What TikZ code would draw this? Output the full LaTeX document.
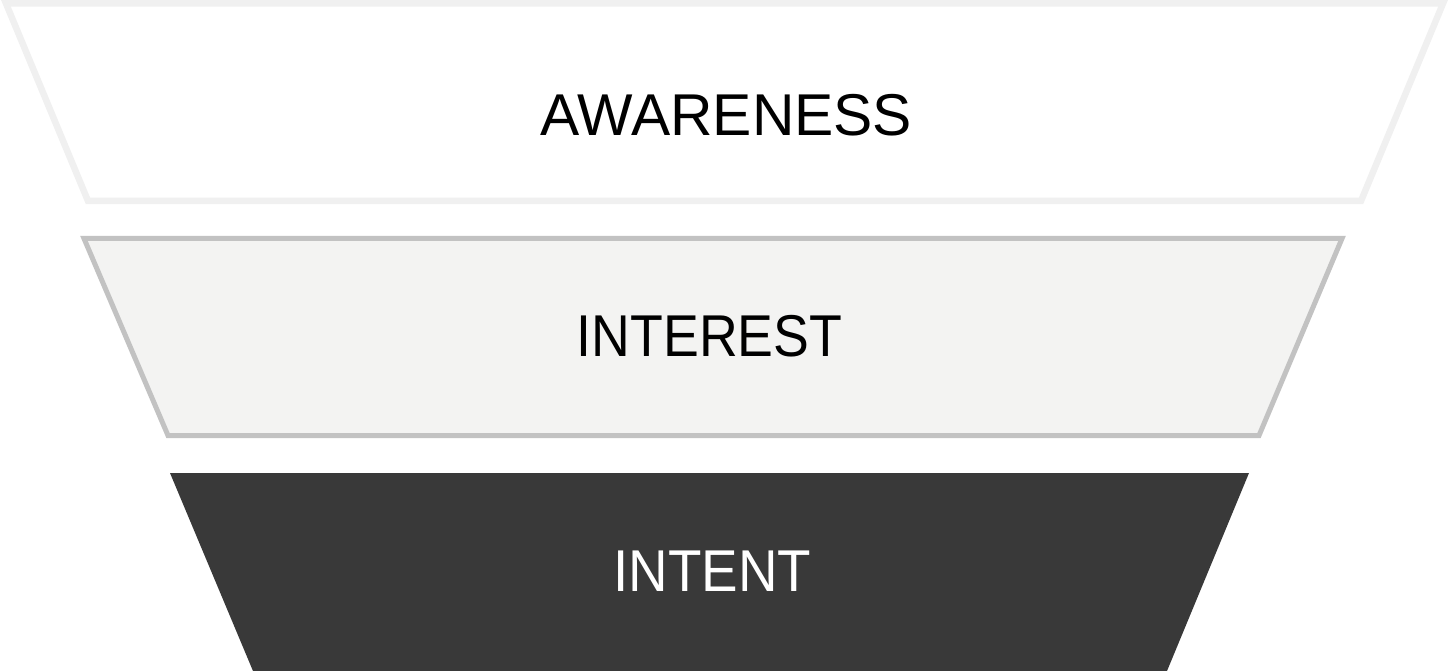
\documentclass[tikz,border=0pt]{standalone}
\usepackage{fontspec}
\setmainfont{Liberation Sans}
\definecolor{topedge}{HTML}{F0F0F0}
\definecolor{midedge}{HTML}{C2C2C2}
\definecolor{midfill}{HTML}{F3F3F2}
\definecolor{darkfill}{HTML}{393939}
\begin{document}
\begin{tikzpicture}[x=1pt,y=-1pt,
  stage/.style={line join=miter},
  label/.style={inner sep=0pt,text depth=0pt,font=\fontsize{59}{60}\selectfont,xscale=0.91,transform shape}]
\useasboundingbox (0,0) rectangle (1449,671);
% top stage
\draw[stage,draw=topedge,line width=6.5pt,fill=white]
  (6,3.5) -- (1443,3.5) -- (1361,201) -- (88,201) -- cycle;
% middle stage
\draw[stage,draw=midedge,line width=5pt,fill=midfill]
  (84,238.5) -- (1342,238.5) -- (1259,435.5) -- (168,435.5) -- cycle;
% bottom stage
\fill[darkfill] (170,473) -- (1249,473) -- (1167,671) -- (253,671) -- cycle;
\node[label,xscale=1.095] (awareness) at (726.5,115) {AWARENESS};
\node[label] (interest) at (709.5,335.5) {INTEREST};
\node[label,xscale=1.02,text=white] (intent) at (712.5,571) {INTENT};
\end{tikzpicture}
\end{document}
